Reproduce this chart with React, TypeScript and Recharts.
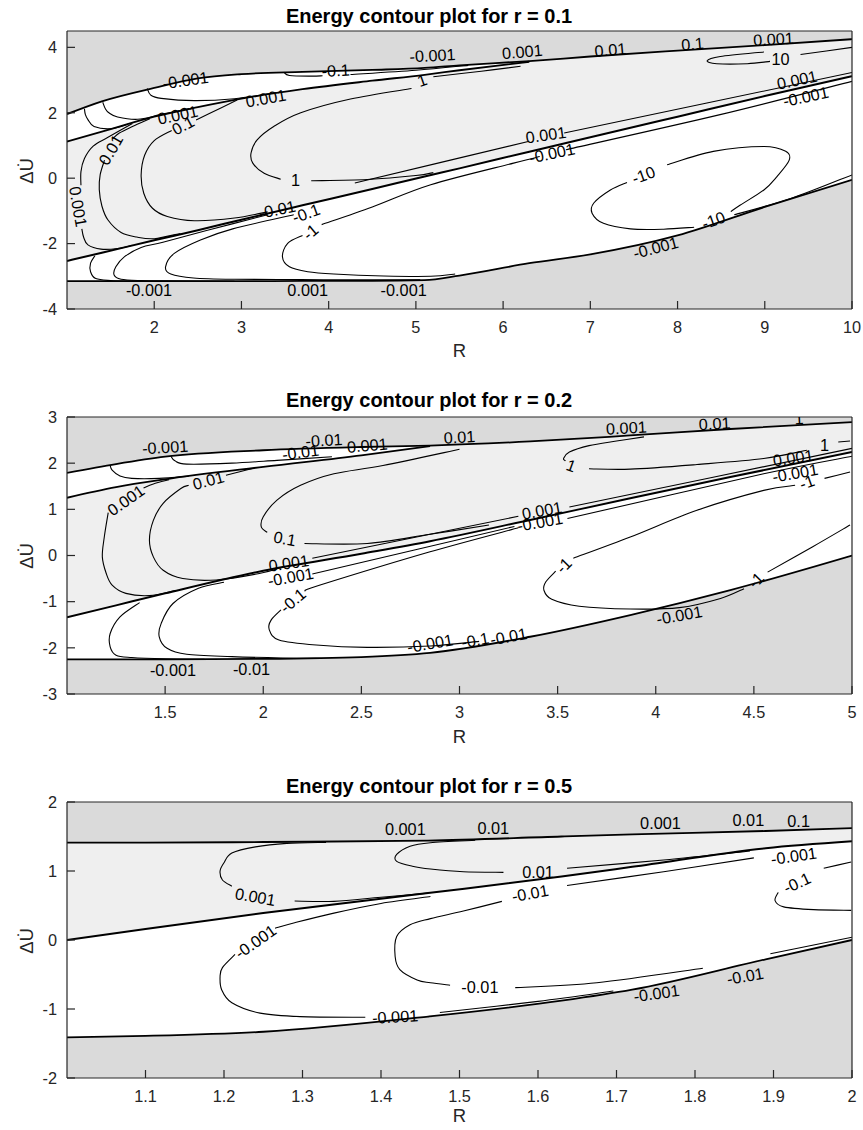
import React from "react";
import { ComposedChart, Area, Line, Scatter, XAxis, YAxis, CartesianGrid } from "recharts";

const FONT = '"Liberation Sans", Arial, Helvetica, sans-serif';
const DARK = "#dadada";
const LIGHT = "#efefef";
const AXIS = "#262626";

// ---------------- Panel 1 : r = 0.1 ----------------
const P1_X = [1, 1.4, 2, 2.5, 3, 3.7, 4.5, 5.1, 5.5, 6.3, 7, 8, 9, 10];
const P1_UPPER = [1.96, 2.35, 2.76, 3.05, 3.18, 3.25, 3.31, 3.37, 3.45, 3.58, 3.72, 3.9, 4.07, 4.25];
const P1_YA = [1.12, 1.42, 1.88, 2.17, 2.43, 2.72, 2.98, 3.16, 3.3, 3.56, null, null, null, null];
const P1_BANDTOP = [1.12, 1.42, 1.88, 2.17, 2.43, 2.72, 2.98, 3.16, 3.3, 3.58, 3.72, 3.9, 4.07, 4.25];
const P1_YB = [-2.53, -2.28, -1.9, -1.59, -1.27, -0.83, -0.33, 0.05, 0.3, 0.81, 1.25, 1.88, 2.51, 3.12];
const P1_LOWER = [-3.15, -3.15, -3.15, -3.15, -3.15, -3.14, -3.14, -3.12, -2.98, -2.6, -2.33, -1.75, -0.88, -0.05];
const P1_XTICKS = [2, 3, 4, 5, 6, 7, 8, 9, 10];
const P1_YTICKS = [-4, -2, 0, 2, 4];

const P1_CURVES: number[][][] = [
  [[1.2, 2.12], [1.21, 1.95], [1.24, 1.79], [1.31, 1.58], [1.5, 1.51], [1.7, 1.65]],
  [[1.41, 2.32], [1.44, 2.12], [1.48, 2.0], [1.58, 1.87], [1.81, 1.8], [2.08, 1.95], [2.4, 2.13]],
  [[1.92, 2.74], [1.96, 2.54], [2.08, 2.44], [2.46, 2.37], [2.92, 2.43], [3.4, 2.62]],
  [[3.49, 3.23], [3.55, 3.14], [3.8, 3.12], [3.93, 3.13]],
  [[4.25, 3.17], [5.0, 3.3], [5.6, 3.45]],
  [[1.75, 1.67], [1.47, 1.25], [1.3, 0.98], [1.2, 0.6], [1.16, 0.2], [1.16, -0.22]],
  [[1.17, -1.55], [1.19, -1.8], [1.24, -2.04], [1.39, -2.17], [1.58, -2.15], [1.75, -2.05]],
  [[1.95, 1.82], [1.75, 1.58], [1.6, 1.38], [1.52, 1.2]],
  [[1.43, 0.55], [1.38, 0.1], [1.37, -0.35], [1.4, -0.85], [1.47, -1.28], [1.62, -1.66], [1.8, -1.8], [2.0, -1.85], [2.3, -1.69]],
  [[2.95, 2.39], [2.62, 1.96], [2.48, 1.78]],
  [[2.2, 1.46], [2.0, 1.15], [1.89, 0.7], [1.85, 0.1], [1.88, -0.46], [1.98, -0.92], [2.15, -1.17], [2.46, -1.3], [2.92, -1.22], [3.3, -1.03]],
  [[4.95, 2.74], [4.25, 2.42], [3.68, 2.0], [3.37, 1.58], [3.18, 1.17], [3.11, 0.77], [3.13, 0.46], [3.26, 0.15], [3.45, -0.03]],
  [[3.8, -0.08], [4.44, -0.04], [5.0, 0.08], [5.2, 0.17]],
  [[5.2, 3.1], [5.75, 3.27], [6.2, 3.42]],
  [[1.32, -2.37], [1.27, -2.6], [1.27, -2.86], [1.33, -3.07], [1.5, -3.13], [1.8, -3.15]],
  [[3.3, -1.12], [2.6, -1.6], [2.1, -1.96], [1.85, -2.12], [1.66, -2.4], [1.56, -2.71], [1.54, -2.96], [1.62, -3.09], [1.85, -3.13], [2.15, -3.14], [2.92, -3.15]],
  [[3.6, -1.12], [2.9, -1.55], [2.53, -1.89], [2.23, -2.3], [2.13, -2.71], [2.19, -2.93], [2.45, -3.05], [2.92, -3.09], [3.68, -3.1], [4.44, -3.11], [5.05, -3.11]],
  [[3.7, -1.75], [3.53, -1.99], [3.47, -2.4], [3.55, -2.71], [3.76, -2.86], [4.06, -2.93], [4.63, -2.99], [5.17, -3.0], [5.45, -2.93]],
  [[3.92, -1.42], [4.5, -0.88], [5.17, -0.2], [6.12, 0.46], [6.42, 0.66]],
  [[6.72, 0.87], [8.5, 1.95], [10, 2.96]],
  [[4.3, -0.15], [6.3, 1.13]],
  [[6.7, 1.38], [10, 3.23]],
  [[7.88, 0.41], [8.41, 0.82], [8.99, 0.97], [9.24, 0.82], [9.28, 0.55], [9.14, 0.05], [8.99, -0.36], [8.72, -0.82], [8.61, -1.02]],
  [[8.19, -1.5], [7.84, -1.56], [7.46, -1.55], [7.15, -1.38], [7.02, -1.07], [7.04, -0.76], [7.23, -0.36], [7.42, -0.13]],
  [[8.65, -1.12], [9.3, -0.62], [10, 0.1]],
  [[8.99, 3.86], [8.49, 3.72], [8.34, 3.59], [8.45, 3.5], [8.8, 3.5], [9.06, 3.57]],
  [[9.41, 3.78], [10, 4.0]],
];

const P1_LABELS: (number | string)[][] = [
  [2.36, 3.0, "-0.001", -8], [4.08, 3.3, "-0.1", -3], [3.28, 2.45, "0.001", -10], [2.27, 1.94, "0.001", -12],
  [2.33, 1.62, "0.1", -28], [1.5, 0.87, "0.01", -60], [1.13, -0.87, "0.001", 80], [3.62, -0.05, "1", 0],
  [5.07, 3.0, "1", -20], [3.41, -0.95, "-0.01", -12], [3.74, -1.07, "-0.1", -20], [3.79, -1.64, "-1", -40],
  [1.94, -3.42, "-0.001", 0], [3.76, -3.42, "0.001", 0], [4.86, -3.42, "-0.001", 0], [5.19, 3.76, "-0.001", -3],
  [6.22, 3.87, "0.001", -5], [7.23, 3.93, "0.01", -5], [8.17, 4.11, "0.1", -5], [9.1, 4.26, "0.001", -3],
  [9.18, 3.64, "10", 0], [9.37, 3.01, "0.001", -12], [9.47, 2.5, "-0.001", -12], [6.49, 1.33, "0.001", -8],
  [6.56, 0.77, "-0.001", -12], [7.61, 0.1, "-10", -20], [8.41, -1.28, "-10", -20], [7.75, -2.12, "-0.001", -15],
];

// ---------------- Panel 2 : r = 0.2 ----------------
const P2_X = [1, 1.25, 1.5, 2, 2.5, 2.85, 3.36, 3.87, 4.38, 5];
const P2_UPPER = [1.79, 1.98, 2.14, 2.28, 2.35, 2.38, 2.47, 2.6, 2.74, 2.89];
const P2_YA = [1.25, 1.48, 1.65, 1.92, 2.17, 2.37, null, null, null, null];
const P2_BANDTOP = [1.25, 1.48, 1.65, 1.92, 2.17, 2.38, 2.47, 2.6, 2.74, 2.89];
const P2_YB = [-1.34, -1.08, -0.82, -0.33, 0.04, 0.31, 0.77, 1.24, 1.7, 2.24];
const P2_LOWER = [-2.25, -2.25, -2.25, -2.24, -2.2, -2.11, -1.76, -1.29, -0.75, 0.0];
const P2_XTICKS = [1.5, 2, 2.5, 3, 3.5, 4, 4.5, 5];
const P2_YTICKS = [-3, -2, -1, 0, 1, 2, 3];

const P2_CURVES: number[][][] = [
  [[1.22, 1.95], [1.23, 1.85], [1.27, 1.72], [1.33, 1.67], [1.47, 1.67], [1.62, 1.72]],
  [[1.53, 2.15], [1.55, 2.05], [1.61, 1.98], [1.84, 2.0], [2.07, 2.06], [2.35, 2.14]],
  [[1.52, 1.64], [1.44, 1.55], [1.39, 1.46]],
  [[1.21, 0.93], [1.19, 0.4], [1.18, -0.03], [1.2, -0.39], [1.23, -0.64], [1.3, -0.82], [1.42, -0.87], [1.55, -0.76]],
  [[1.95, 1.89], [1.81, 1.74]],
  [[1.62, 1.52], [1.58, 1.45], [1.49, 1.13], [1.44, 0.76], [1.42, 0.33], [1.44, -0.03], [1.49, -0.32], [1.59, -0.5], [1.76, -0.53], [1.98, -0.39], [2.1, -0.25]],
  [[3.0, 2.3], [2.61, 1.95], [2.36, 1.77], [2.19, 1.52], [2.07, 1.2], [2.0, 0.84], [1.99, 0.62], [2.02, 0.5]],
  [[2.21, 0.26], [2.53, 0.26], [2.85, 0.46], [3.15, 0.66]],
  [[3.94, 2.57], [3.8, 2.48], [3.66, 2.38], [3.56, 2.24], [3.53, 2.1], [3.54, 2.05]],
  [[3.66, 1.88], [3.87, 1.87], [4.21, 1.97], [4.55, 2.1], [4.77, 2.28]],
  [[4.93, 2.46], [4.99, 2.48]],
  [[1.37, -1.02], [1.27, -1.33], [1.22, -1.69], [1.22, -1.98], [1.25, -2.16], [1.33, -2.21], [1.5, -2.24], [1.7, -2.25]],
  [[1.8, -0.58], [1.67, -0.71], [1.54, -1.04], [1.48, -1.47], [1.47, -1.76], [1.51, -2.01], [1.61, -2.14], [1.84, -2.19], [2.1, -2.22], [2.3, -2.23]],
  [[3.3, 0.6], [2.85, 0.08], [2.29, -0.64], [2.21, -0.77]],
  [[2.09, -1.18], [2.04, -1.4], [2.03, -1.6], [2.08, -1.83], [2.27, -1.94], [2.53, -1.99], [2.85, -1.96], [3.1, -1.86]],
  [[3.58, -0.06], [3.87, 0.4], [4.21, 0.98], [4.55, 1.41], [4.71, 1.52]],
  [[4.86, 1.67], [4.99, 1.81]],
  [[3.49, -0.34], [3.44, -0.57], [3.43, -0.75], [3.47, -0.95], [3.61, -1.1], [3.87, -1.16], [4.12, -1.13], [4.33, -0.93], [4.45, -0.72]],
  [[4.57, -0.36], [4.8, 0.19], [4.99, 0.66]],
  [[2.25, -0.06], [3.3, 0.85]],
  [[3.56, 1.05], [5, 2.32]],
  [[2.25, -0.4], [3.28, 0.63]],
  [[3.55, 0.8], [4.55, 1.77], [5, 2.15]],
];

const P2_LABELS: (number | string)[][] = [
  [1.5, 2.35, "-0.001", -3], [2.19, 2.24, "-0.01", -8], [2.31, 2.5, "-0.01", -3], [2.53, 2.39, "0.001", -5],
  [3.0, 2.57, "0.01", -3], [3.85, 2.77, "0.001", -3], [4.3, 2.86, "0.01", -3], [4.73, 2.97, "1", -3],
  [4.86, 2.39, "1", 0], [4.7, 2.12, "0.001", -8], [4.71, 1.79, "-0.001", -10], [4.77, 1.59, "-1", -20],
  [3.57, 1.95, "1", 20], [3.42, 0.98, "0.001", -10], [3.41, 0.73, "-0.001", -10], [3.53, -0.21, "-1", -45],
  [4.51, -0.53, "-1", -45], [4.12, -1.29, "-0.001", -10],
  [2.85, -1.9, "-0.001", -10], [3.08, -1.83, "-0.1", -10], [3.25, -1.75, "-0.01", -10],
  [1.72, 1.63, "0.01", -15], [1.3, 1.2, "0.001", -35], [2.11, 0.37, "0.1", 10], [2.13, -0.16, "0.001", -8],
  [2.14, -0.46, "-0.001", -10], [2.15, -0.97, "-0.1", -40], [1.54, -2.48, "-0.001", 0], [1.94, -2.45, "-0.01", 0],
];

// ---------------- Panel 3 : r = 0.5 ----------------
const P3_X = [1, 1.1, 1.25, 1.46, 1.63, 1.72, 1.89, 2];
const P3_UPPER = [1.41, 1.41, 1.42, 1.44, 1.5, 1.53, 1.58, 1.62];
const P3_YB = [0.0, 0.16, 0.39, 0.68, 0.92, 1.06, 1.33, 1.43];
const P3_LOWER = [-1.41, -1.39, -1.33, -1.11, -0.88, -0.72, -0.28, 0.0];
const P3_XTICKS = [1.1, 1.2, 1.3, 1.4, 1.5, 1.6, 1.7, 1.8, 1.9, 2];
const P3_YTICKS = [-2, -1, 0, 1, 2];

const P3_CURVES: number[][][] = [
  [[1.33, 1.415], [1.28, 1.4], [1.24, 1.35], [1.21, 1.26], [1.2, 1.12], [1.195, 1.0], [1.198, 0.87], [1.21, 0.78]],
  [[1.29, 0.565], [1.34, 0.56], [1.4, 0.62], [1.46, 0.68]],
  [[1.52, 1.445], [1.463, 1.41], [1.437, 1.36], [1.42, 1.24], [1.42, 1.14], [1.44, 1.07], [1.463, 1.03], [1.505, 0.99], [1.556, 0.98]],
  [[1.637, 1.04], [1.76, 1.16], [1.87, 1.29]],
  [[1.463, 0.63], [1.4, 0.53], [1.34, 0.39], [1.29, 0.25], [1.265, 0.17]],
  [[1.214, -0.21], [1.198, -0.4], [1.195, -0.53], [1.197, -0.72], [1.21, -0.91], [1.246, -1.06], [1.297, -1.11], [1.38, -1.12]],
  [[1.875, 1.19], [1.76, 0.99], [1.637, 0.79]],
  [[1.554, 0.56], [1.505, 0.42], [1.463, 0.31], [1.437, 0.22], [1.42, 0.05], [1.418, -0.24], [1.424, -0.43], [1.446, -0.58], [1.463, -0.62], [1.488, -0.655]],
  [[1.571, -0.69], [1.675, -0.62], [1.81, -0.41]],
  [[1.964, 1.04], [1.999, 1.13]],
  [[1.906, 0.69], [1.902, 0.57], [1.913, 0.48], [1.951, 0.44], [1.999, 0.43]],
  [[1.475, -1.05], [1.6, -0.89], [1.696, -0.74]],
  [[1.896, -0.2], [2.0, 0.04]],
];

const P3_LABELS: (number | string)[][] = [
  [1.431, 1.61, "0.001", 0], [1.543, 1.62, "0.01", 0], [1.756, 1.7, "0.001", 0], [1.868, 1.74, "0.01", 0],
  [1.932, 1.72, "0.1", 0], [1.24, 0.63, "0.001", 10], [1.24, -0.02, "-0.001", -35], [1.418, -1.11, "-0.001", -3],
  [1.6, 0.99, "0.01", 0], [1.59, 0.68, "-0.01", -10], [1.926, 1.22, "-0.001", -8], [1.93, 0.83, "-0.1", -25],
  [1.526, -0.68, "-0.01", 0], [1.864, -0.52, "-0.01", -10], [1.751, -0.77, "-0.001", -8],
];

// ---------------- helpers ----------------
function catmullRom(context: any) {
  let pts: number[][] = [];
  return {
    areaStart() {},
    areaEnd() {},
    lineStart() {
      pts = [];
    },
    lineEnd() {
      const n = pts.length;
      if (n === 0) return;
      context.moveTo(pts[0][0], pts[0][1]);
      for (let i = 0; i < n - 1; i++) {
        const p0 = pts[Math.max(i - 1, 0)];
        const p1 = pts[i];
        const p2 = pts[i + 1];
        const p3 = pts[Math.min(i + 2, n - 1)];
        context.bezierCurveTo(
          p1[0] + (p2[0] - p0[0]) / 6,
          p1[1] + (p2[1] - p0[1]) / 6,
          p2[0] - (p3[0] - p1[0]) / 6,
          p2[1] - (p3[1] - p1[1]) / 6,
          p2[0],
          p2[1]
        );
      }
    },
    point(x: number, y: number) {
      pts.push([+x, +y]);
    },
  };
}

function buildRows(xs: number[], upper: number[], top: number[], yb: number[], lower: number[], ya: (number | null)[] | null) {
  return xs.map((x, i) => ({
    x,
    upper: upper[i],
    ya: ya ? ya[i] : null,
    yb: yb[i],
    lower: lower[i],
    allowed: [lower[i], upper[i]],
    band: [yb[i], top[i]],
  }));
}

const renderLabel = (p: any) => {
  const { cx, cy, payload } = p;
  if (cx == null || cy == null || !payload) return <g />;
  return (
    <text
      x={cx}
      y={cy}
      textAnchor="middle"
      dominantBaseline="central"
      transform={`rotate(${payload.a} ${cx} ${cy})`}
      fontSize={16.3}
      fontFamily={FONT}
      fill="#000"
    >
      {payload.t}
    </text>
  );
};

type PanelProps = {
  top: number;
  height: number;
  marginTop: number;
  xAxisH: number;
  rows: any[];
  xDomain: number[];
  yDomain: number[];
  xTicks: number[];
  yTicks: number[];
  curves: number[][][];
  labels: (number | string)[][];
  hasYa: boolean;
};

function Panel(props: PanelProps) {
  const { top, height, marginTop, xAxisH, rows, xDomain, yDomain, xTicks, yTicks, curves, labels, hasYa } = props;
  const labelRows = labels.map(([x, y, t, a]) => ({ x, y, t, a }));
  const tickStyle = { fill: AXIS, fontSize: 16.3, fontFamily: FONT };
  return (
    <div style={{ position: "absolute", left: 0, top }}>
      <ComposedChart width={863} height={height} data={rows} margin={{ top: marginTop, right: 10, bottom: 0, left: 0 }}>
        <CartesianGrid fill={DARK} fillOpacity={1} stroke="none" horizontal={false} vertical={false} />
        <Area dataKey="allowed" type="monotone" fill="#ffffff" fillOpacity={1} stroke="none" dot={false} activeDot={false} isAnimationActive={false} />
        <Area dataKey="band" type="monotone" fill={LIGHT} fillOpacity={1} stroke="none" dot={false} activeDot={false} isAnimationActive={false} />
        <Line dataKey="upper" type="monotone" stroke="#000" strokeWidth={1.8} dot={false} activeDot={false} isAnimationActive={false} />
        {hasYa && <Line dataKey="ya" type="monotone" stroke="#000" strokeWidth={1.8} dot={false} activeDot={false} isAnimationActive={false} />}
        <Line dataKey="yb" type="monotone" stroke="#000" strokeWidth={2} dot={false} activeDot={false} isAnimationActive={false} />
        <Line dataKey="lower" type="monotone" stroke="#000" strokeWidth={1.8} dot={false} activeDot={false} isAnimationActive={false} />
        {curves.map((c, i) => (
          <Line
            key={"c" + i}
            data={c.map(([x, y]) => ({ x, y }))}
            dataKey="y"
            type={catmullRom as any}
            stroke="#000"
            strokeWidth={1.1}
            dot={false}
            activeDot={false}
            isAnimationActive={false}
          />
        ))}
        <Scatter data={labelRows} dataKey="y" shape={renderLabel} isAnimationActive={false} />
        <XAxis
          dataKey="x"
          type="number"
          domain={xDomain}
          ticks={xTicks}
          allowDataOverflow
          interval={0}
          height={xAxisH}
          tickSize={-8}
          tickMargin={20}
          stroke={AXIS}
          strokeWidth={1.2}
          tick={tickStyle}
        />
        <XAxis
          xAxisId="top"
          orientation="top"
          dataKey="x"
          type="number"
          domain={xDomain}
          ticks={xTicks}
          allowDataOverflow
          interval={0}
          height={1}
          tickSize={-8}
          stroke={AXIS}
          strokeWidth={1.2}
          tick={false}
        />
        <YAxis
          type="number"
          domain={yDomain}
          ticks={yTicks}
          allowDataOverflow
          interval={0}
          width={67}
          tickSize={-8}
          tickMargin={18}
          stroke={AXIS}
          strokeWidth={1.2}
          tick={tickStyle}
        />
        <YAxis
          yAxisId="right"
          orientation="right"
          type="number"
          domain={yDomain}
          ticks={yTicks}
          allowDataOverflow
          interval={0}
          width={1}
          tickSize={-8}
          stroke={AXIS}
          strokeWidth={1.2}
          tick={false}
        />
      </ComposedChart>
    </div>
  );
}

const TITLES = ["Energy contour plot for r = 0.1", "Energy contour plot for r = 0.2", "Energy contour plot for r = 0.5"];
const TITLE_Y = [23.3, 407.3, 792.7];
const XLABEL_Y = [356.5, 743, 1122];
const YLABEL_CY = [171, 556, 941];

export default function App() {
  const rows1 = buildRows(P1_X, P1_UPPER, P1_BANDTOP, P1_YB, P1_LOWER, P1_YA);
  const rows2 = buildRows(P2_X, P2_UPPER, P2_BANDTOP, P2_YB, P2_LOWER, P2_YA);
  const rows3 = buildRows(P3_X, P3_UPPER, P3_UPPER, P3_YB, P3_LOWER, null);
  return (
    <div style={{ position: "absolute", left: 0, top: 0, width: 863, height: 1130, background: "#fff" }}>
      <Panel top={0} height={345} marginTop={30} xAxisH={36} rows={rows1} xDomain={[1, 10]} yDomain={[-4, 4.5]}
        xTicks={P1_XTICKS} yTicks={P1_YTICKS} curves={P1_CURVES} labels={P1_LABELS} hasYa />
      <Panel top={345} height={385} marginTop={71} xAxisH={36} rows={rows2} xDomain={[1, 5]} yDomain={[-3, 3]}
        xTicks={P2_XTICKS} yTicks={P2_YTICKS} curves={P2_CURVES} labels={P2_LABELS} hasYa />
      <Panel top={730} height={400} marginTop={71} xAxisH={52} rows={rows3} xDomain={[1, 2]} yDomain={[-2, 2]}
        xTicks={P3_XTICKS} yTicks={P3_YTICKS} curves={P3_CURVES} labels={P3_LABELS} hasYa={false} />
      <svg width={863} height={1130} style={{ position: "absolute", left: 0, top: 0, pointerEvents: "none" }}>
        {TITLES.map((t, i) => (
          <text key={"t" + i} x={429} y={TITLE_Y[i]} textAnchor="middle" fontSize={20} fontWeight="bold" fontFamily={FONT} fill="#000">
            {t}
          </text>
        ))}
        {XLABEL_Y.map((y, i) => (
          <text key={"x" + i} x={459.5} y={y} textAnchor="middle" fontSize={18.5} fontFamily={FONT} fill={AXIS}>
            R
          </text>
        ))}
        {YLABEL_CY.map((cy, i) => (
          <text key={"y" + i} x={33} y={cy} textAnchor="middle" fontSize={18.5} fontFamily={FONT} fill={AXIS}
            transform={`rotate(-90 33 ${cy})`}>
            {"\u0394U\u0307"}
          </text>
        ))}
      </svg>
    </div>
  );
}
